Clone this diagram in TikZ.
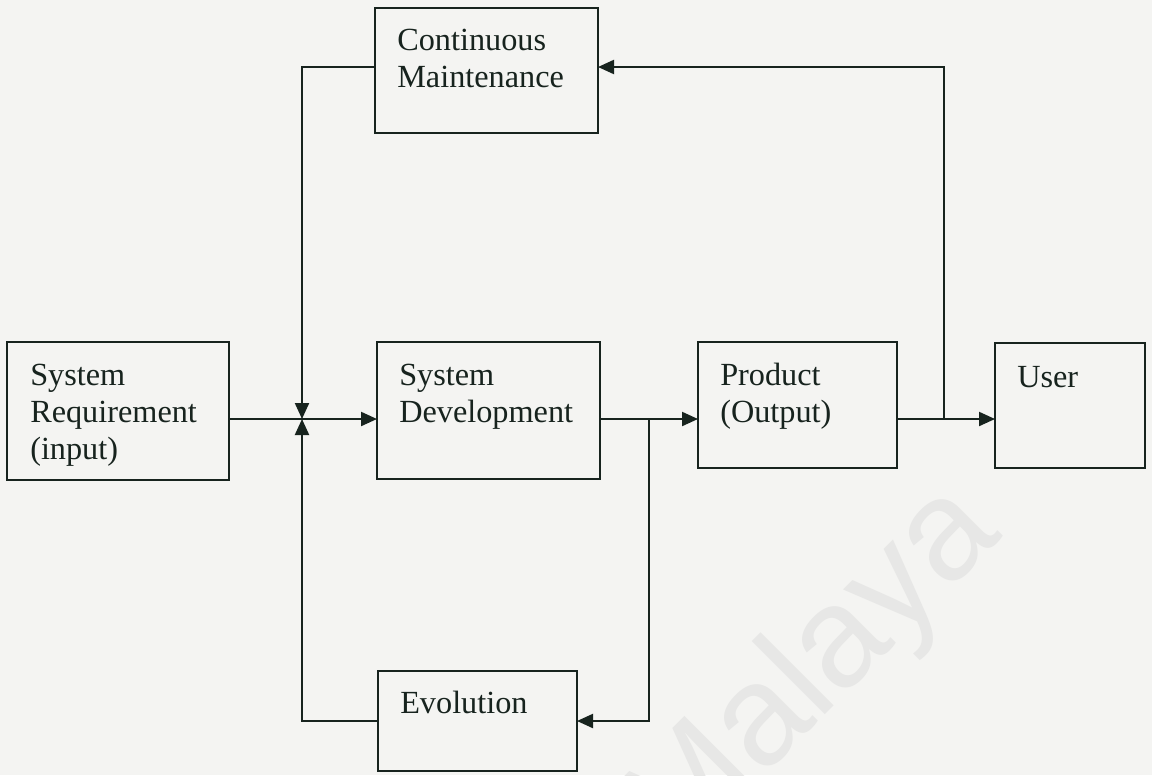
\documentclass[tikz,border=0pt]{standalone}
\usepackage{fontspec}
\setmainfont{Liberation Serif}
\newfontfamily\wmfont{Liberation Sans}
\usetikzlibrary{arrows.meta,calc}

\definecolor{paper}{HTML}{F4F4F2}
\definecolor{ink}{HTML}{17231E}
\definecolor{wmgray}{HTML}{E7E7E6}

\tikzset{
  box/.style={draw=ink, line width=1.7pt, inner sep=0pt, outer sep=0pt},
  lbl/.style={inner sep=0pt, anchor=base west, text=ink, align=left, text width=190pt,
              font=\fontsize{24.2}{27.8}\selectfont},
  conn/.style={draw=ink, line width=1.6pt},
  tip/.style={-{Triangle[length=12pt,width=10.5pt]}},
}

\begin{document}
\begin{tikzpicture}[x=0.75pt, y=-0.75pt]
  % canvas
  \useasboundingbox[fill=paper] (0,0) rectangle (1152,775);

  % faint watermark
  \begin{scope}
    \clip (0,0) rectangle (1152,775);
    \node[rotate=45, anchor=base west, inner sep=0pt, text=wmgray,
          font=\wmfont\fontsize{107}{107}\selectfont] (wm) at (678,862) {Malaya};
  \end{scope}

  % boxes
  \node[box, minimum width=167.25pt, minimum height=93.75pt]  (maint) at (486.5,70.5) {};
  \node[box, minimum width=166.5pt,  minimum height=103.5pt]  (sreq)  at (118,411)    {};
  \node[box, minimum width=167.25pt, minimum height=102.75pt] (sdev)  at (488.5,410.5) {};
  \node[box, minimum width=149.25pt, minimum height=94.5pt]   (prod)  at (797.5,405)  {};
  \node[box, minimum width=112.5pt,  minimum height=93.75pt]  (user)  at (1070,405.5) {};
  \node[box, minimum width=149.25pt, minimum height=75pt]     (evol)  at (477.5,721)  {};

  % box texts
  \node[lbl] (maint-t) at ($(maint.north west)+(22,42)$) {Continuous\\Maintenance};
  \node[lbl] (sreq-t)  at ($(sreq.north west)+(23,43)$)  {System\\Requirement\\(input)};
  \node[lbl] (sdev-t)  at ($(sdev.north west)+(22,43)$)  {System\\Development};
  \node[lbl] (prod-t)  at ($(prod.north west)+(22,43)$)  {Product\\(Output)};
  \node[lbl] (user-t)  at ($(user.north west)+(22,44)$)  {User};
  \node[lbl] (evol-t)  at ($(evol.north west)+(22,42)$)  {Evolution};

  % junctions and corners
  \coordinate (j1)   at (302,419);
  \coordinate (topL) at (302,67);
  \coordinate (botL) at (302,721);
  \coordinate (j2)   at (649,419);
  \coordinate (botR) at (649,721);
  \coordinate (j3)   at (944,419);
  \coordinate (topR) at (944,67);

  % main flow
  \draw[conn, tip] (sreq.east |- j1) -- (sdev.west |- j1);
  \draw[conn, tip] (sdev.east |- j1) -- (prod.west |- j1);
  \draw[conn, tip] (prod.east |- j1) -- (user.west |- j1);

  % feedback from the user to maintenance
  \draw[conn, tip] (j3) -- (topR) -- (maint.east |- topR);
  % maintenance back into development
  \draw[conn, tip] (maint.west |- topL) -- (topL) -- (j1);

  % development to evolution and back
  \draw[conn, tip] (j2) -- (botR) -- (evol.east |- botR);
  \draw[conn, tip] (evol.west |- botL) -- (botL) -- (j1);
\end{tikzpicture}
\end{document}
